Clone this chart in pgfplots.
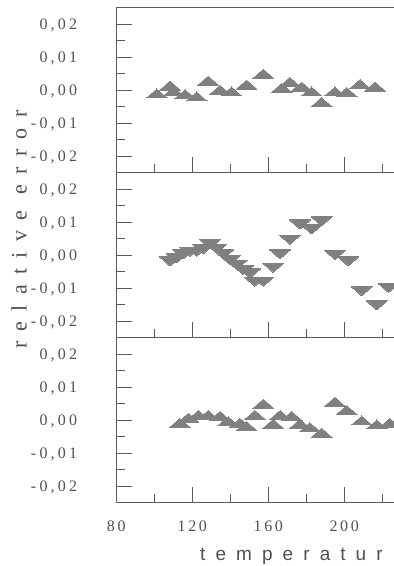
\documentclass[border=0pt]{standalone}
\usepackage{fontspec}
\usepackage{pgfplots}
\pgfplotsset{compat=1.18}
\setmainfont{Liberation Serif}
\newfontfamily\tickfont[LetterSpace=17]{Liberation Serif}
\newfontfamily\ytickfont[LetterSpace=20]{Liberation Serif}
\newfontfamily\ylabfont[LetterSpace=47]{Liberation Serif}
\newfontfamily\xlabfont[LetterSpace=53]{Liberation Sans}
\definecolor{mk}{HTML}{808080}
\definecolor{ax}{HTML}{5A5A5A}
\definecolor{tx}{HTML}{505050}
\newcommand{\yl}[1]{\raisebox{-5.5bp}{#1}\rule{21bp}{0pt}}
\pgfplotsset{panel/.style={
  scale only axis, width=277.7bp, height=165bp,
  xmin=80, xmax=226.2, ymin=-0.025, ymax=0.025,
  axis y line*=left,
  axis line style={ax, line width=0.8bp},
  tick style={ax, line width=0.8bp},
  tick align=inside,
  major tick length=15.5bp, minor tick length=8.5bp,
  xtick={80,120,160,200}, minor xtick={100,140,180,220},
  xtick pos=left,
  xticklabels={},
  ytick={-0.02,-0.01,0,0.01,0.02},
  yticklabels={{\yl{-0,02}},{\yl{-0,01}},{\yl{0,00}},{\yl{0,01}},{\yl{0,02}}},
  minor ytick={-0.015,-0.005,0.005,0.015},
  yticklabel style={font=\fontsize{16bp}{18bp}\ytickfont, text=tx, anchor=base east, inner sep=0pt, xshift=-18bp},
  scaled y ticks=false,
},
upmk/.style={only marks, color=mk, mark=triangle*, mark size=12bp, mark options={solid, fill=mk, draw=mk, line width=0pt, yscale=0.5}},
dnmk/.style={only marks, color=mk, mark=triangle*, mark size=12bp, mark options={solid, fill=mk, draw=mk, line width=0pt, rotate=180, yscale=0.5}},
}
\begin{document}
\begin{tikzpicture}
% top panel
\begin{axis}[panel, at={(116.3bp,-7.5bp)}, anchor=north west]
\addplot[upmk] coordinates {
(101.3,-0.0015) (108.3,0.0009) (110.2,-0.0009) (116.2,-0.0017) (122.3,-0.0024)
(128.4,0.0024) (134.6,-0.0004) (140.7,-0.0009) (148.6,0.0012) (157.4,0.0045)
(167.1,0.0002) (171.4,0.0020) (177.6,0.0006) (182.8,-0.0009) (188.1,-0.0041)
(195.1,-0.0009) (201.3,-0.0011) (208.3,0.0014) (216.2,0.0006)
};
\end{axis}
% middle panel
\begin{axis}[panel, at={(116.3bp,-172.5bp)}, anchor=north west]
\addplot[dnmk] coordinates {
(108.3,-0.0015) (111.8,-0.0005) (115.3,0.0007) (118.8,0.0015) (122.3,0.0015)
(125.8,0.0022) (129.4,0.0038) (132.8,0.0024) (136.3,0.0007) (139.8,-0.0010)
(143.4,-0.0025) (146.8,-0.0041) (150.4,-0.0051) (152.9,-0.0076) (157.4,-0.0076)
(162.6,-0.0034) (166.2,0.0007) (171.4,0.0051) (176.7,0.0097) (182.8,0.0082)
(188.1,0.0107) (195.1,0.0005) (202.1,-0.0015) (209.2,-0.0105) (217.1,-0.0148)
(223.3,-0.0095)
};
\end{axis}
% bottom panel
\begin{axis}[panel, at={(116.3bp,-337.5bp)}, anchor=north west,
  xticklabels={80,120,160,200},
  xticklabel style={font=\fontsize{16bp}{18bp}\tickfont, text=tx, anchor=base, inner sep=0pt, xshift=0bp, yshift=-29.2bp}]
\addplot[upmk] coordinates {
(113.5,-0.0013) (118.0,0.0003) (123.2,0.0011) (128.4,0.0011) (134.6,0.0008)
(138.9,-0.0008) (145.1,-0.0013) (148.6,-0.0023) (153.0,0.0011) (157.4,0.0045)
(162.6,-0.0016) (166.2,0.0011) (172.3,0.0008) (176.7,-0.0016) (181.9,-0.0026)
(188.1,-0.0043) (195.1,0.0051) (201.3,0.0026) (209.2,-0.0006) (217.1,-0.0018)
(224.0,-0.0013)
};
\end{axis}
\node[rotate=90, anchor=base west, inner sep=0pt, text=tx, font=\fontsize{22bp}{24bp}\ylabfont] at (26.5bp,-349bp) {relative error};
\node[anchor=base west, inner sep=0pt, text=tx, font=\fontsize{19bp}{22bp}\xlabfont] at (200bp,-560bp) {temperatur};
\pgfresetboundingbox
\path[use as bounding box] (0,0) rectangle (394bp,-566bp);
\end{tikzpicture}
\end{document}
